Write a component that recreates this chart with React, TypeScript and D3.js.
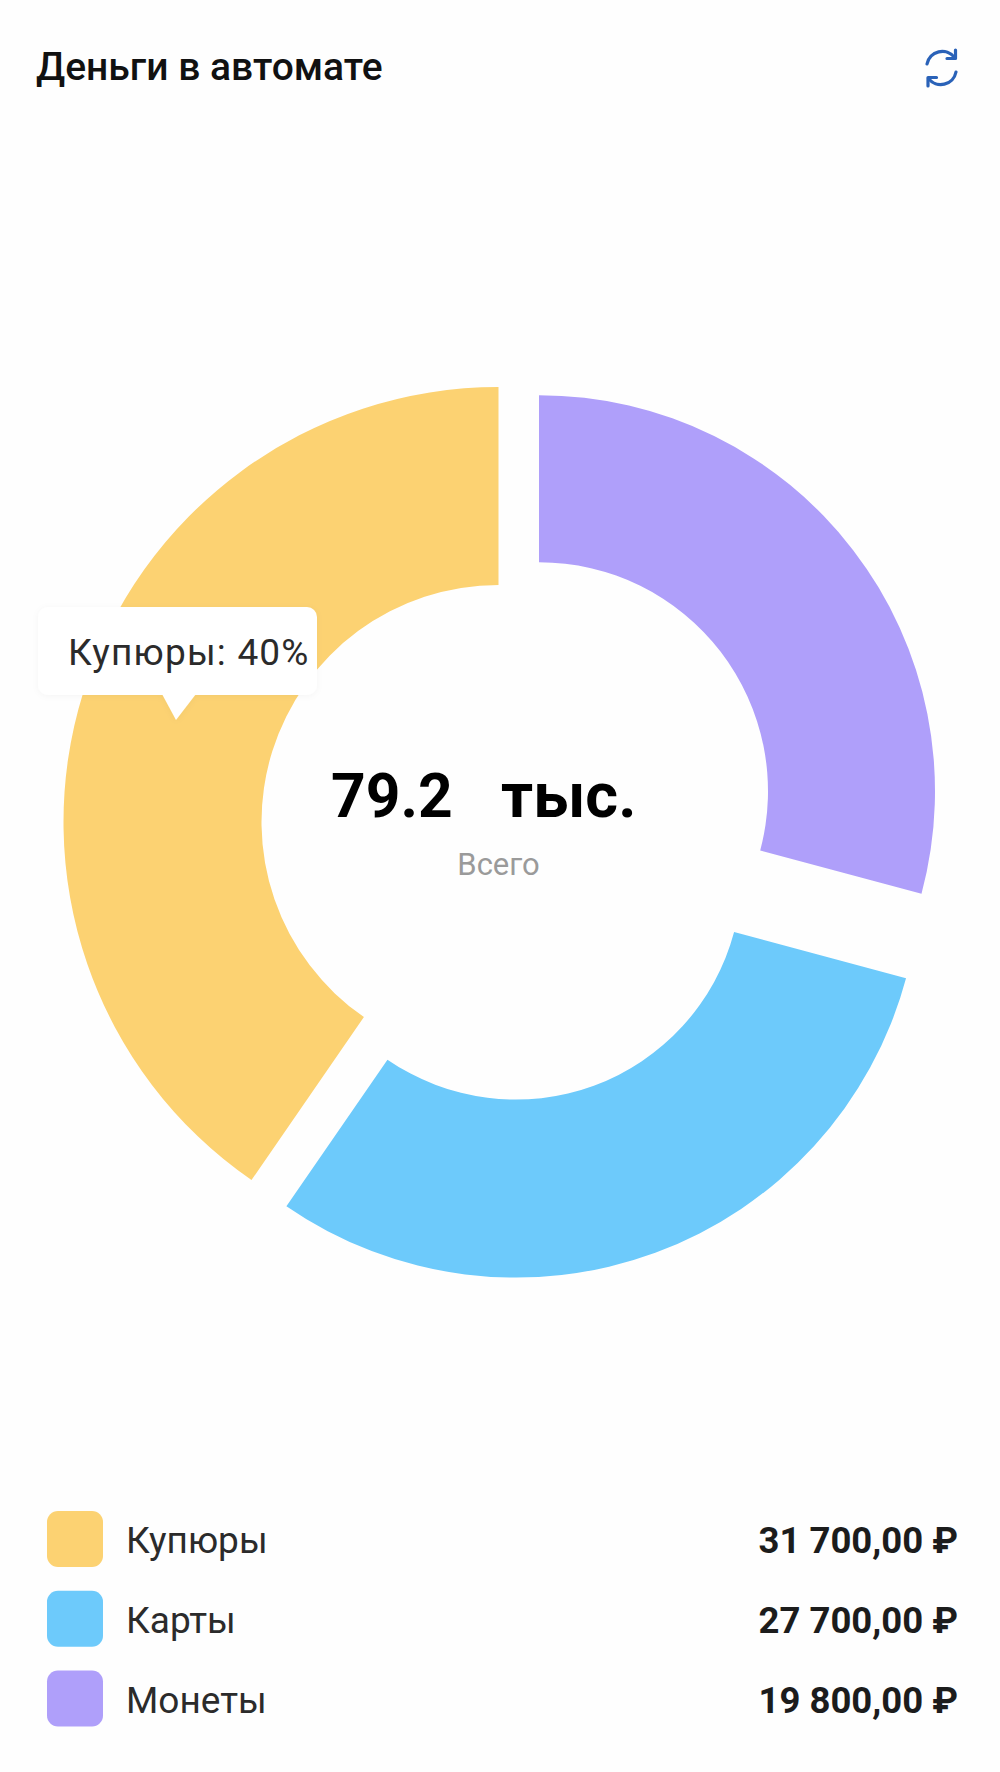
import * as d3 from "d3";

const categories = ["Купюры", "Карты", "Монеты"];
const amounts = [31700, 27700, 19800];
const colors = ["#FCD272", "#6DCAFB", "#AF9FFA"];

// the ring does not follow the amounts, so it gets its own list
const ringOrder = ["Монеты", "Карты", "Купюры"];
const ringSweep = [105, 109.6, 145.4];
// every slice has its own centre and radii in the picture
const ringCx = [539, 515.8, 498.5];
const ringCy = [791.2, 873.6, 822];
const ringOuter = [396, 404, 435];
const ringInner = [229, 226, 237];

const width = 1000;
const height = 1772;
const font = "Roboto, sans-serif";

const locale = d3.formatLocale({
  decimal: ",",
  thousands: "\u00a0",
  grouping: [3],
  currency: ["", ""],
});
const money = locale.format(",.2f");

export default function App() {
  const total = d3.sum(amounts);
  const slices = d3
    .pie<number>()
    .sort(null)
    .value((d) => d)(ringSweep);
  const legendY = d3.scalePoint<string>().domain(categories).range([1539, 1698.5]);
  const share = d3.format(".0%")(amounts[0] / total);

  return (
    <svg
      width={width}
      height={height}
      viewBox={`0 0 ${width} ${height}`}
      style={{ position: "absolute", left: 0, top: 0, background: "#fefefe" }}
      fontFamily={font}
    >
      <defs>
        <filter id="tip-shadow" x="-10%" y="-20%" width="120%" height="140%">
          <feDropShadow dx="0" dy="1" stdDeviation="3" floodColor="#000" floodOpacity="0.04" />
        </filter>
      </defs>

      <text x={36} y={80} fontSize={39} fontWeight={500} fill="#111">
        Деньги в автомате
      </text>

      {/* refresh icon */}
      <g fill="none" stroke="#2A62B8" strokeWidth={3.2} strokeLinecap="round" strokeLinejoin="round">
        <path d="M927 64a15.5 15.5 0 0 1 27.5-6.5" />
        <path d="M956 72a15.5 15.5 0 0 1-27.5 6.5" />
        <path d="M955.5 50v8.5h-8.5" />
        <path d="M928 86v-8.5h8.5" />
      </g>

      {slices.map((s, i) => {
        const arc = d3.arc<d3.PieArcDatum<number>>().innerRadius(ringInner[i]).outerRadius(ringOuter[i]);
        return (
          <path
            key={ringOrder[i]}
            d={arc(s) ?? ""}
            transform={`translate(${ringCx[i]},${ringCy[i]})`}
            fill={colors[categories.indexOf(ringOrder[i])]}
          />
        );
      })}

      {/* tooltip */}
      <g filter="url(#tip-shadow)" fill="#fff">
        <rect x={38} y={607} width={279} height={88} rx={10} />
        <path d="M162 694L176 720L196 694Z" />
      </g>
      <text x={68} y={665} fontSize={37} fill="#2b2b2b" letterSpacing={1.2}>
        {categories[0]}: {share}
      </text>

      <text x={331} y={817} fontSize={60.5} fontWeight={700} fill="#000">
        {d3.format(".1f")(total / 1000)}
      </text>
      <text x={501} y={817} fontSize={63} fontWeight={700} fill="#000">
        тыс.
      </text>
      <text x={498.5} y={875} fontSize={31} textAnchor="middle" fill="#9a9a9a">
        Всего
      </text>

      {categories.map((c, i) => {
        const y = legendY(c) ?? 0;
        return (
          <g key={c}>
            <rect x={47} y={y - 28} width={56} height={56} rx={11} fill={colors[i]} />
            <text x={126} y={y + 14} fontSize={37} fill="#2b2b2b">
              {c}
            </text>
            <text x={958} y={y + 14} fontSize={36.5} fontWeight={700} textAnchor="end" fill="#1c1c1c">
              {money(amounts[i])} ₽
            </text>
          </g>
        );
      })}
    </svg>
  );
}
